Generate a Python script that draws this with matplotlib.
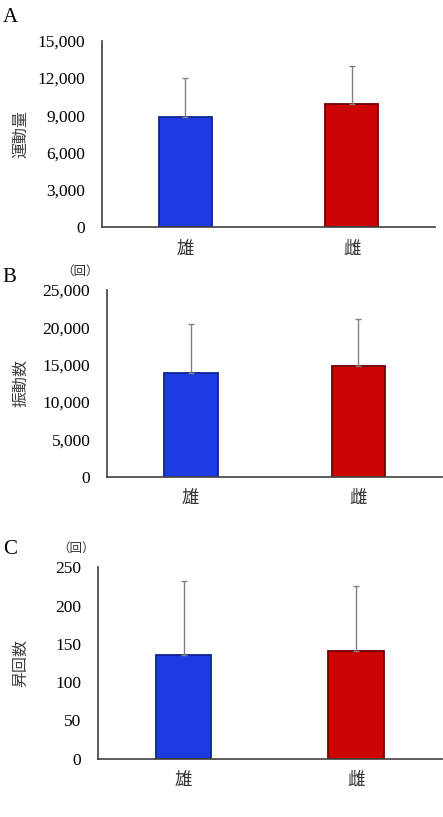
import numpy as np
import matplotlib.pyplot as plt
import matplotlib

matplotlib.rcParams['font.family'] = ['Liberation Serif', 'Noto Sans CJK JP']

cats = ["雄", "雌"]
colors = ["#1c3be2", "#cc0404"]
edges = ["#0d2290", "#6e0000"]

# panel A: 運動量
a_mean = [8850, 9900]
a_sd = [3150, 3100]
# panel B: 振動数
b_mean = [13850, 14780]
b_sd = [6550, 6350]
# panel C: 昇回数
c_mean = [135, 141]
c_sd = [97, 85]

# letter, ylabel, data, ticks, show unit, axes rect, letter y, unit x
panels = [
    ("A", "運動量", a_mean, a_sd, [0, 3000, 6000, 9000, 12000, 15000], False,
     [0.230, 0.722, 0.752, 0.228], 0.979, None),
    ("B", "振動数", b_mean, b_sd, [0, 5000, 10000, 15000, 20000, 25000], True,
     [0.2415, 0.4165, 0.7565, 0.2285], 0.660, 0.181),
    ("C", "昇回数", c_mean, c_sd, [0, 50, 100, 150, 200, 250], True,
     [0.2205, 0.0714, 0.7775, 0.2342], 0.328, 0.172),
]

fig = plt.figure(figsize=(4.43, 8.17), dpi=100)
x = np.arange(len(cats))

for letter, ylab, mean, sd, ticks, unit, rect, ly, ux in panels:
    ax = fig.add_axes(rect)
    ax.bar(x, mean, width=0.32, color=colors, edgecolor=edges, linewidth=1.3,
           yerr=[[0, 0], sd], ecolor="#808080",
           error_kw=dict(elinewidth=1, capsize=2.5, capthick=1), zorder=2)
    ax.set_xlim(-0.5, 1.5)
    ax.set_ylim(0, ticks[-1])
    ax.set_yticks(ticks)
    ax.set_yticklabels([f"{t:,}" for t in ticks])
    ax.set_xticks(x)
    ax.set_xticklabels(cats, family=['Noto Sans CJK JP'], fontsize=12.5, color="#333333")
    ax.tick_params(axis='y', length=0, pad=12, labelsize=12.5)
    ax.tick_params(axis='x', length=0, pad=9)
    for s in ["top", "right"]:
        ax.spines[s].set_visible(False)
    for s in ["left", "bottom"]:
        ax.spines[s].set_color("#404040")
        ax.spines[s].set_linewidth(1.2)
    fig.text(0.047, rect[1] + rect[3] / 2, ylab, family=['Noto Sans CJK JP'],
             fontsize=11.5, color="#404040", rotation=90, ha="center", va="center")
    fig.text(0.006, ly, letter, fontsize=15, va="center")
    if unit:
        fig.text(ux, rect[1] + rect[3] + 0.023, "（回）",
                 family=['Noto Sans CJK JP'], fontsize=9, color="#333333",
                 ha="center", va="center")

fig.savefig("out.png", dpi=100)
